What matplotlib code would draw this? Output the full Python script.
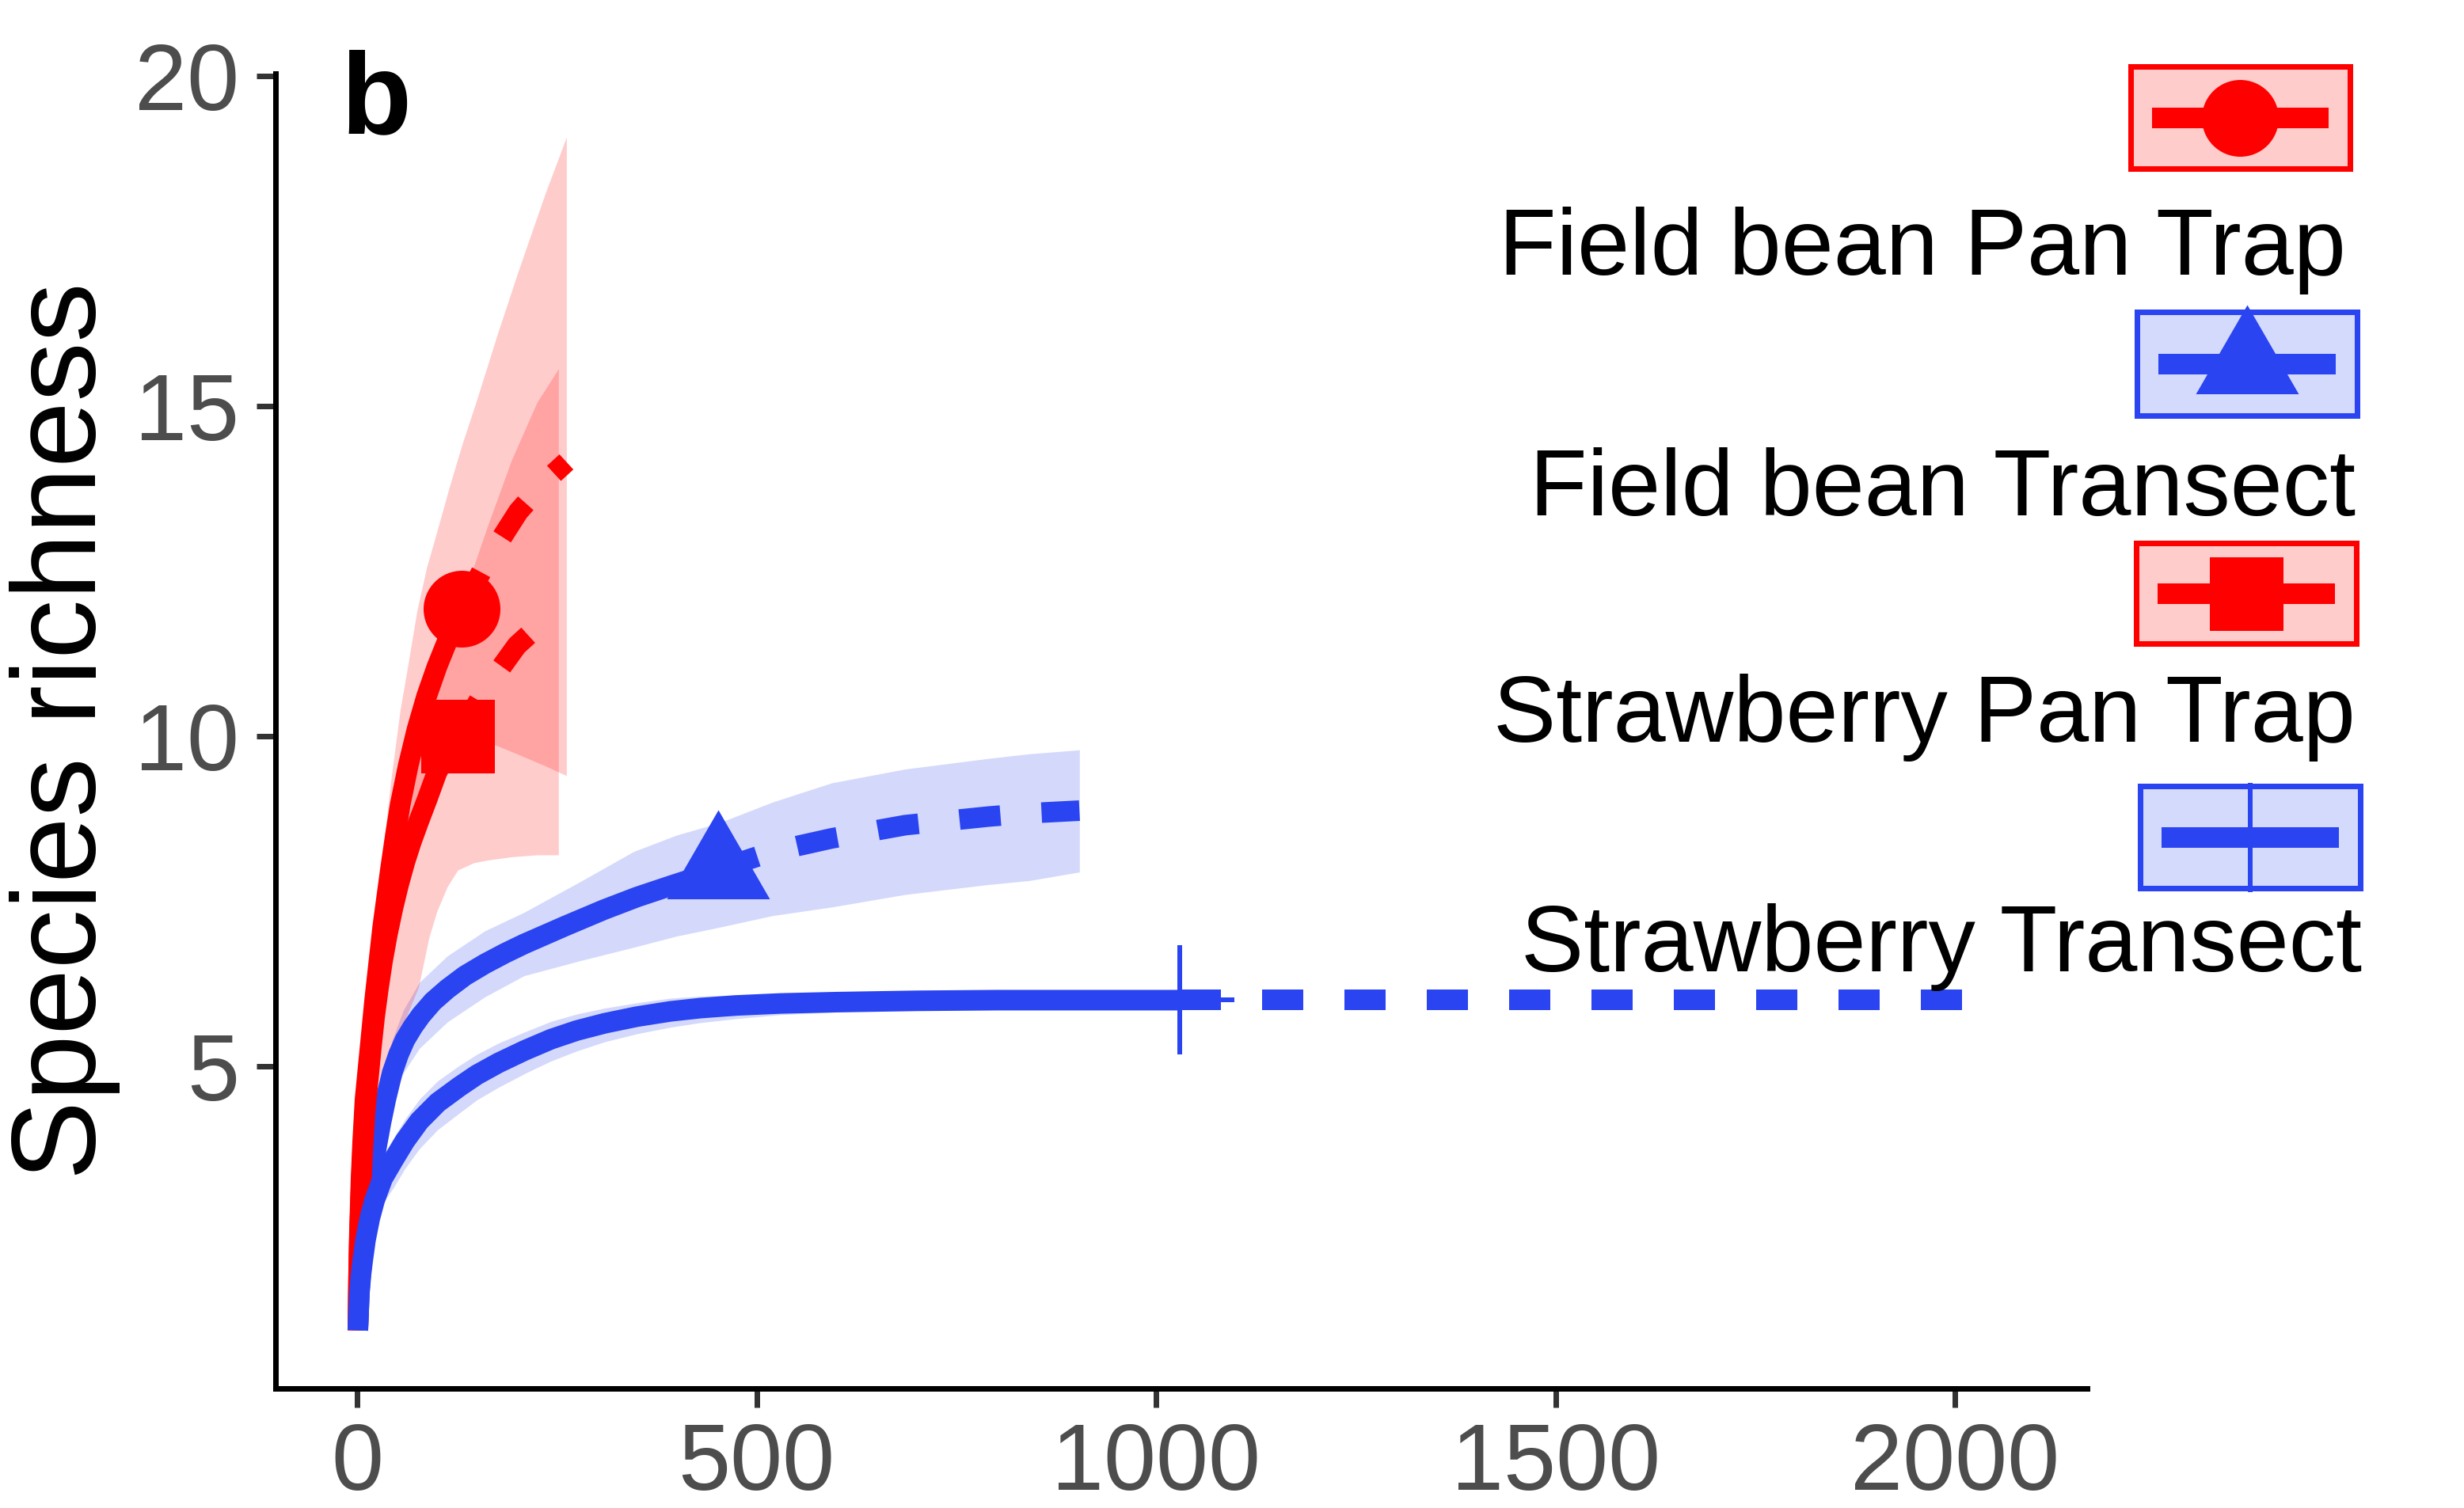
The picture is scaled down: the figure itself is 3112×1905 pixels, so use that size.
import numpy as np
import matplotlib
matplotlib.use("Agg")
import matplotlib.pyplot as plt
from matplotlib.path import Path
from matplotlib.patches import Rectangle
from matplotlib.lines import Line2D

plt.rcParams['font.family'] = ['Liberation Sans', 'DejaVu Sans']

RED = '#FF0000'
BLUE = '#2A44F2'
RED_FILL = '#FFCCCC'
BLUE_FILL = '#D4DAFC'

labels = ["Field bean Pan Trap", "Field bean Transect",
          "Strawberry Pan Trap", "Strawberry Transect"]

# ---- Field bean Pan Trap (sample size 131) ----
fpt_int_x = [1, 2, 3, 5, 7, 10, 14, 18, 22, 27, 32, 37, 42, 48, 54, 64, 75, 87, 100, 115, 131]
fpt_int_y = [1, 1.9, 2.5, 3.3, 3.85, 4.5, 5.0, 5.5, 6.0, 6.55, 7.1, 7.55, 8.0, 8.5, 8.96,
             9.55, 10.1, 10.6, 11.05, 11.5, 11.93]
fpt_ext_x = [131, 165, 202, 235, 262]
fpt_ext_y = [11.93, 12.7, 13.4, 13.85, 14.15]
fpt_band_x = [1, 3, 7, 14, 22, 32, 42, 54, 64, 75, 87, 100, 115, 131, 150, 176, 202, 235, 262]
fpt_lo = [1, 2.1, 3.2, 4.1, 4.9, 5.8, 6.6, 7.4, 7.95, 8.45, 8.95, 9.35, 9.7, 9.95, 9.95,
          9.85, 9.72, 9.55, 9.4]
fpt_hi = [1, 3.0, 4.6, 5.9, 7.0, 8.2, 9.3, 10.4, 11.1, 11.9, 12.55, 13.1, 13.75, 14.4, 15.1,
          16.1, 17.05, 18.2, 19.07]

# ---- Field bean Transect (sample size 452) ----
fbt_int_x = [1, 3, 6, 10, 15, 20, 25, 30, 36, 44, 52, 60, 70, 80, 95, 113, 135, 160, 185,
             209, 260, 309, 350, 392, 425, 452]
fbt_int_y = [1, 1.6, 2.1, 2.6, 3.05, 3.45, 3.82, 4.15, 4.5, 4.9, 5.18, 5.4, 5.6, 5.77, 5.98,
             6.17, 6.37, 6.55, 6.71, 6.85, 7.12, 7.37, 7.56, 7.73, 7.86, 7.98]
fbt_ext_x = [452, 520, 594, 686, 790, 841, 904]
fbt_ext_y = [7.98, 8.25, 8.45, 8.65, 8.78, 8.83, 8.87]
fbt_band_x = [1, 4, 10, 17, 24, 33, 44, 58, 78, 113, 160, 209, 280, 346, 400, 452, 520, 594,
              686, 790, 841, 904]
fbt_lo = [1, 1.6, 2.35, 2.85, 3.3, 3.9, 4.45, 4.9, 5.27, 5.67, 6.05, 6.37, 6.6, 6.8, 6.97,
          7.1, 7.28, 7.41, 7.6, 7.75, 7.81, 7.94]
fbt_hi = [1, 2.0, 2.85, 3.5, 4.1, 4.75, 5.4, 5.85, 6.27, 6.67, 7.05, 7.33, 7.8, 8.25, 8.5,
          8.68, 9.0, 9.29, 9.5, 9.66, 9.73, 9.79]

# ---- Strawberry Pan Trap (sample size 126) ----
spt_int_x = [1, 2, 3, 5, 7, 10, 14, 18, 22, 27, 32, 38, 45, 52, 60, 68, 77, 88, 100, 113, 126]
spt_int_y = [1, 1.85, 2.4, 3.15, 3.7, 4.3, 4.8, 5.3, 5.75, 6.2, 6.6, 7.0, 7.4, 7.75, 8.1,
             8.4, 8.7, 9.05, 9.45, 9.75, 10.0]
spt_ext_x = [126, 163, 200, 230, 252]
spt_ext_y = [10.0, 10.75, 11.37, 11.7, 11.9]
spt_band_x = [1, 3, 7, 14, 22, 32, 45, 60, 77, 90, 100, 113, 126, 146, 163, 193, 225, 252]
spt_lo = [1, 2.1, 3.0, 3.8, 4.3, 4.8, 5.25, 5.7, 6.2, 6.95, 7.35, 7.72, 7.97, 8.08, 8.12,
          8.17, 8.2, 8.2]
spt_hi = [1, 2.7, 4.3, 5.6, 6.7, 7.6, 8.5, 9.4, 10.2, 10.75, 11.1, 11.55, 11.95, 12.57,
          13.17, 14.17, 15.05, 15.56]

# ---- Strawberry Transect (sample size 1030) ----
st_int_x = [1, 2, 3, 5, 7, 10.6, 16, 22, 32, 45, 60, 78, 101, 128, 150, 177, 210, 243, 275,
            310, 350, 392, 430, 475, 530, 600, 700, 800, 1030]
st_int_y = [1, 1.3, 1.57, 1.85, 2.05, 2.37, 2.7, 2.97, 3.3, 3.57, 3.87, 4.17, 4.45, 4.69,
            4.87, 5.05, 5.24, 5.41, 5.54, 5.65, 5.75, 5.83, 5.88, 5.92, 5.95, 5.97, 5.99,
            6.0, 6.0]
st_ext_x = [1030, 2060]
st_ext_y = [6.0, 6.0]
st_band_x = st_int_x
st_lo = [1, 1.25, 1.47, 1.7, 1.85, 2.12, 2.4, 2.63, 2.92, 3.15, 3.45, 3.75, 4.04, 4.29,
         4.49, 4.68, 4.89, 5.08, 5.23, 5.37, 5.49, 5.59, 5.66, 5.72, 5.78, 5.82, 5.88,
         5.92, 5.97]
st_hi = [1, 1.35, 1.67, 2.0, 2.23, 2.59, 2.96, 3.26, 3.61, 3.9, 4.2, 4.5, 4.78, 5.01,
         5.18, 5.35, 5.52, 5.68, 5.79, 5.88, 5.96, 6.03, 6.06, 6.08, 6.09, 6.09, 6.08,
         6.06, 6.03]

x_ticks = [0, 500, 1000, 1500, 2000]
y_ticks = [5, 10, 15, 20]

W, H, DPI = 3112, 1905, 300
PX = 72.0 / DPI  # points per pixel

# equilateral triangle centred on its centroid
tri_marker = Path([(0, 1.555), (1.347, -0.778), (-1.347, -0.778), (0, 1.555)],
                  [Path.MOVETO, Path.LINETO, Path.LINETO, Path.CLOSEPOLY])

series = [
    dict(ix=fpt_int_x, iy=fpt_int_y, ex=fpt_ext_x, ey=fpt_ext_y,
         bx=fpt_band_x, lo=fpt_lo, hi=fpt_hi,
         color=RED, marker='o', ms=97, mew=0),
    dict(ix=fbt_int_x, iy=fbt_int_y, ex=fbt_ext_x, ey=fbt_ext_y,
         bx=fbt_band_x, lo=fbt_lo, hi=fbt_hi,
         color=BLUE, marker=tri_marker, ms=150, mew=0),
    dict(ix=spt_int_x, iy=spt_int_y, ex=spt_ext_x, ey=spt_ext_y,
         bx=spt_band_x, lo=spt_lo, hi=spt_hi,
         color=RED, marker='s', ms=93, mew=0),
    dict(ix=st_int_x, iy=st_int_y, ex=st_ext_x, ey=st_ext_y,
         bx=st_band_x, lo=st_lo, hi=st_hi,
         color=BLUE, marker='+', ms=138, mew=6),
]

fig = plt.figure(figsize=(W / DPI, H / DPI), dpi=DPI)
ax = fig.add_axes([348 / W, 1 - 1754 / H, (2636 - 348) / W, (1754 - 93) / H])

LW = 26 * PX
for s in series:
    ax.fill_between(s['bx'], s['lo'], s['hi'], color=s['color'], alpha=0.2,
                    linewidth=0, zorder=1)

for s in series:
    ax.plot(s['ix'], s['iy'], color=s['color'], lw=LW, solid_capstyle='butt',
            solid_joinstyle='round', zorder=2)
    ax.plot(s['ex'], s['ey'], color=s['color'], lw=LW, linestyle=(0, (2, 2)),
            dash_capstyle='butt', zorder=2)

for s in series:
    ax.plot([s['ix'][-1]], [s['iy'][-1]], linestyle='none', marker=s['marker'],
            ms=s['ms'] * PX, mew=s['mew'] * PX, color=s['color'],
            mec=s['color'], zorder=3)

ax.set_xlim(-102, 2165)
ax.set_ylim(0.12, 20.03)
ax.set_xticks(x_ticks)
ax.set_yticks(y_ticks)
for side in ('top', 'right'):
    ax.spines[side].set_visible(False)
for side in ('left', 'bottom'):
    ax.spines[side].set_linewidth(7 * PX)
    ax.spines[side].set_color('black')
ax.tick_params(axis='both', length=24 * PX, width=7 * PX, color='#333333',
               labelsize=28.5, labelcolor='#4D4D4D')
ax.tick_params(axis='y', pad=5.3)
ax.tick_params(axis='x', pad=4.3)
ax.set_facecolor('white')

fig.text(82 / W, 1 - 923 / H, "Species richness", rotation=90, ha='center',
         va='center', fontsize=36, color='black')
fig.text(430 / W, 1 - 168 / H, "b", ha='left', va='baseline', fontsize=35,
         fontweight='bold', color='black')

# legend: key box above each label, right aligned
lax = fig.add_axes([0, 0, 1, 1])
lax.set_xlim(0, W)
lax.set_ylim(H, 0)
lax.axis('off')

keys = [
    (2691, 2968, 84, 213, 2963, 347),
    (2699, 2977, 394, 525, 2975, 651),
    (2698, 2976, 686, 813, 2975, 937),
    (2703, 2981, 993, 1122, 2983, 1227),
]
for (x0, x1, y0, y1, tx, ty), s, lab in zip(keys, series, labels):
    fill = RED_FILL if s['color'] == RED else BLUE_FILL
    lax.add_patch(Rectangle((x0, y0), x1 - x0, y1 - y0, facecolor=fill,
                            edgecolor=s['color'], lw=7 * PX, zorder=1))
    yc = (y0 + y1) / 2
    lax.add_line(Line2D([x0 + 27, x1 - 27], [yc, yc], color=s['color'], lw=LW,
                        solid_capstyle='butt', zorder=2))
    lax.add_line(Line2D([(x0 + x1) / 2], [yc], linestyle='none', marker=s['marker'],
                        ms=s['ms'] * PX, mew=s['mew'] * PX, color=s['color'],
                        mec=s['color'], zorder=3))
    lax.text(tx, ty, lab, ha='right', va='baseline', fontsize=28.5, color='black')

fig.savefig("out.png", dpi=DPI, facecolor='white')
